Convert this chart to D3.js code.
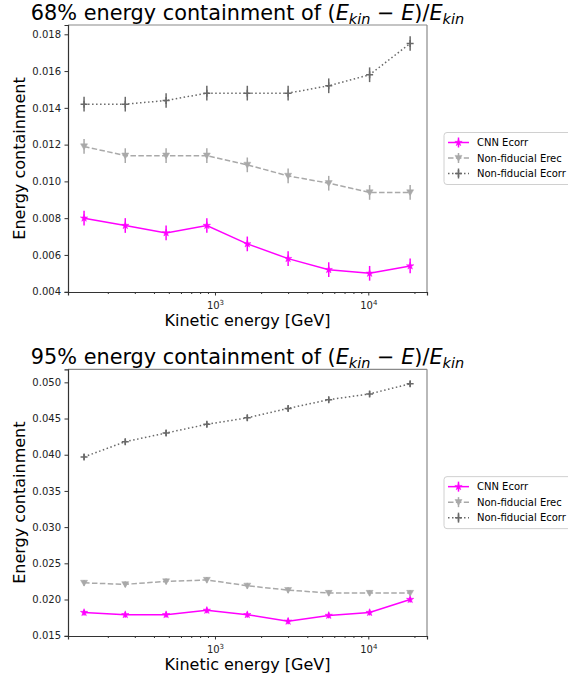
<!DOCTYPE html>
<html><head><meta charset="utf-8">
<script src="https://cdn.jsdelivr.net/npm/d3@7"></script>
<style>body{margin:0;background:#fff}svg{display:block;font-family:"DejaVu Sans",sans-serif}</style>
</head><body><svg id="c" width="568" height="679"></svg>
<script>
const energies = [140, 260, 480, 885, 1625, 3000, 5520, 10200, 18750];
const cnn68 = [0.0080, 0.0076, 0.0072, 0.0076, 0.0066, 0.0058, 0.0052, 0.0050, 0.0054];
const erec68 = [0.0119, 0.0114, 0.0114, 0.0114, 0.0109, 0.0103, 0.0099, 0.0094, 0.0094];
const ecorr68 = [0.0142, 0.0142, 0.0144, 0.0148, 0.0148, 0.0148, 0.0152, 0.0158, 0.0175];
const cnn95 = [0.0182, 0.0179, 0.0179, 0.0185, 0.0179, 0.0170, 0.0178, 0.0182, 0.0200];
const erec95 = [0.0223, 0.0221, 0.0225, 0.0227, 0.0219, 0.0213, 0.0209, 0.0209, 0.0209];
const ecorr95 = [0.0397, 0.0418, 0.0430, 0.0442, 0.0451, 0.0464, 0.0476, 0.0484, 0.0498];
const err = [0.0004, 0.0004, 0.0004, 0.0004, 0.0004, 0.0004, 0.0004, 0.0004, 0.0004];
const yTicks68 = [0.004, 0.006, 0.008, 0.010, 0.012, 0.014, 0.016, 0.018];
const yTicks95 = [0.015, 0.020, 0.025, 0.030, 0.035, 0.040, 0.045, 0.050];
const seriesNames = ["CNN Ecorr", "Non-fiducial Erec", "Non-fiducial Ecorr"];

const svg = d3.select("#c");
const L = 68, R = 427;
const x = d3.scaleLog().domain([110, 24150]).range([L, R]);

const styles = [
  {color: "#ff00ff", dash: null, marker: "star"},
  {color: "#a9a9a9", dash: "5.5,2.4", marker: "tri"},
  {color: "#696969", dash: "1.5,2.5", marker: "plus"}
];

function markerPath(type, s) {
  if (type === "star") return d3.symbol(d3.symbolStar, 17)();
  if (type === "tri") { const h = s * 0.5; return `M${-h},${-h * 0.75}L${h},${-h * 0.75}L0,${h * 0.95}Z`; }
  const h = s * 0.5; return `M${-h},0L${h},0M0,${-h}L0,${h}`;
}

function panel(top, bottom, domain, ticks, fmt, data, title, titleY) {
  const y = d3.scaleLinear().domain(domain).range([bottom, top]);
  const g = svg.append("g");
  const t = g.append("text").attr("x", (L + R) / 2).attr("y", titleY).attr("text-anchor", "middle")
    .attr("font-size", 20.8).attr("fill", "#000");
  t.append("tspan").text(title + " of (");
  t.append("tspan").attr("font-style", "italic").text("E");
  t.append("tspan").attr("font-style", "italic").attr("font-size", 14.5).attr("dy", 4).text("kin");
  t.append("tspan").attr("dy", -4).text(" \u2212 ");
  t.append("tspan").attr("font-style", "italic").text("E");
  t.append("tspan").text(")/");
  t.append("tspan").attr("font-style", "italic").text("E");
  t.append("tspan").attr("font-style", "italic").attr("font-size", 14.5).attr("dy", 4).text("kin");

  data.forEach((vals, si) => {
    const st = styles[si];
    const sg = g.append("g");
    const line = d3.line().x((d, i) => x(energies[i])).y(d => y(d));
    sg.append("path").datum(vals).attr("d", line).attr("fill", "none")
      .attr("stroke", st.color).attr("stroke-width", 1.5).attr("stroke-dasharray", st.dash);
    sg.selectAll("line.eb").data(vals).join("line")
      .attr("x1", (d, i) => x(energies[i])).attr("x2", (d, i) => x(energies[i]))
      .attr("y1", (d, i) => y(d - err[i])).attr("y2", (d, i) => y(d + err[i]))
      .attr("stroke", st.color).attr("stroke-width", 1.5);
    sg.selectAll("path.m").data(vals).join("path")
      .attr("transform", (d, i) => `translate(${x(energies[i])},${y(d)})`)
      .attr("d", markerPath(st.marker, 7))
      .attr("fill", st.marker === "plus" ? "none" : st.color)
      .attr("stroke", st.color).attr("stroke-width", st.marker === "plus" ? 1.5 : 0.5);
  });

  g.append("line").attr("x1", L).attr("x2", R).attr("y1", top).attr("y2", top).attr("stroke", "#8a8a8a").attr("stroke-width", 1.2);
  g.append("line").attr("x1", R).attr("x2", R).attr("y1", top).attr("y2", bottom).attr("stroke", "#8a8a8a").attr("stroke-width", 1.2);

  const ya = d3.axisLeft(y).tickValues(ticks).tickFormat(fmt).tickSize(3.5).tickPadding(3.5);
  const yg = g.append("g").attr("transform", `translate(${L},0)`).call(ya);
  yg.select(".domain").attr("stroke", "#333").attr("stroke-width", 1.2);
  yg.selectAll(".tick line").attr("stroke", "#333");
  yg.selectAll(".tick text").attr("font-size", 10).attr("fill", "#222").attr("font-family", "DejaVu Sans");

  const minors = [];
  [100, 1000, 10000].forEach(b => { for (let k = 2; k <= 9; k++) { const v = b * k; if (v > 110 && v < 24150) minors.push(v); } });
  const xm = d3.axisBottom(x).tickValues(minors).tickFormat("").tickSize(2);
  const xmg = g.append("g").attr("transform", `translate(0,${bottom})`).call(xm);
  xmg.select(".domain").remove();
  xmg.selectAll(".tick line").attr("stroke", "#333");
  const xa = d3.axisBottom(x).tickValues([1000, 10000]).tickFormat("").tickSize(3.5);
  const xg = g.append("g").attr("transform", `translate(0,${bottom})`).call(xa);
  xg.select(".domain").attr("stroke", "#333").attr("stroke-width", 1.2);
  xg.selectAll(".tick line").attr("stroke", "#333");
  xg.selectAll(".tick").each(function(d) {
    const tt = d3.select(this).append("text").attr("y", 16.5).attr("text-anchor", "middle")
      .attr("font-size", 10).attr("fill", "#222").attr("font-family", "DejaVu Sans");
    tt.append("tspan").text("10");
    tt.append("tspan").attr("font-size", 7).attr("dy", -4).text(String(Math.round(Math.log10(d))));
  });

  g.append("text").attr("x", (L + R) / 2).attr("y", bottom + 34).attr("text-anchor", "middle")
    .attr("font-size", 16).attr("fill", "#000").text("Kinetic energy [GeV]");
  g.append("text").attr("transform", `translate(25,${(top + bottom) / 2}) rotate(-90)`).attr("text-anchor", "middle")
    .attr("font-size", 16).attr("fill", "#000").text("Energy containment");

  const cy = (top + bottom) / 2;
  const lg = g.append("g").attr("transform", `translate(444,${cy - 26})`);
  lg.append("rect").attr("x", 0).attr("y", 0).attr("width", 140).attr("height", 52).attr("rx", 3)
    .attr("fill", "#fff").attr("stroke", "#d0d0d0").attr("stroke-width", 1);
  seriesNames.forEach((name, i) => {
    const st = styles[i];
    const ry = 10 + i * 15.5;
    lg.append("line").attr("x1", 4).attr("x2", 25).attr("y1", ry).attr("y2", ry)
      .attr("stroke", st.color).attr("stroke-width", 1.5).attr("stroke-dasharray", st.dash);
    lg.append("line").attr("x1", 14.5).attr("x2", 14.5).attr("y1", ry - 5).attr("y2", ry + 5)
      .attr("stroke", st.color).attr("stroke-width", 1.5);
    lg.append("path").attr("transform", `translate(14.5,${ry})`).attr("d", markerPath(st.marker, 7))
      .attr("fill", st.marker === "plus" ? "none" : st.color).attr("stroke", st.color)
      .attr("stroke-width", st.marker === "plus" ? 1.5 : 0.5);
    lg.append("text").attr("x", 33).attr("y", ry).attr("dy", "0.35em").attr("font-size", 10)
      .attr("fill", "#000").text(name);
  });
}

panel(25, 292, [0.003984, 0.018506], yTicks68, d3.format(".3f"), [cnn68, erec68, ecorr68], "68% energy containment", 19.5);
panel(369.3, 636, [0.01496, 0.0518], yTicks95, d3.format(".3f"), [cnn95, erec95, ecorr95], "95% energy containment", 363.5);
</script></body></html>
